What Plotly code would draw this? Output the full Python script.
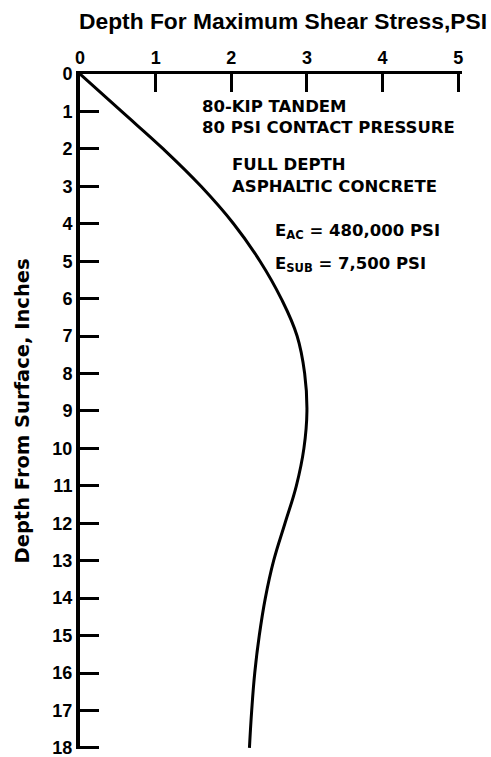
import plotly.graph_objects as go

# Data
depth_in = [0, 1, 2, 3, 4, 5, 6, 7, 8, 9, 10, 11, 12, 13, 14, 15, 16, 17, 18]
shear_psi = [0, 0.55, 1.1, 1.6, 2.03, 2.38, 2.66, 2.87, 2.97, 3.0, 2.96, 2.86, 2.71, 2.56, 2.45, 2.37, 2.31, 2.27, 2.24]

x_ticks = [0, 1, 2, 3, 4, 5]
y_ticks = list(range(0, 19))

title_text = "Depth For Maximum Shear Stress,PSI"
ytitle_text = "Depth From Surface, Inches"

notes = [
    ("80-KIP TANDEM", 1.59, 0.88),
    ("80 PSI CONTACT PRESSURE", 1.59, 1.44),
    ("FULL DEPTH", 1.98, 2.43),
    ("ASPHALTIC CONCRETE", 1.98, 3.01),
    ("E<sub>AC</sub> = 480,000 PSI", 2.55, 4.2),
    ("E<sub>SUB</sub> = 7,500 PSI", 2.55, 5.08),
]

FONT = "Liberation Sans"
FONT2 = "DejaVu Sans"

fig = go.Figure()
fig.add_trace(go.Scatter(
    x=shear_psi, y=depth_in, mode="lines",
    line=dict(color="black", width=3, shape="spline", smoothing=1.2),
    showlegend=False, hoverinfo="skip",
))

W, H = 491, 757
L, R, T, B = 80, 29, 74, 8

fig.update_layout(
    width=W, height=H,
    margin=dict(l=L, r=R, t=T, b=B, autoexpand=False),
    paper_bgcolor="white", plot_bgcolor="white",
    showlegend=False,
    title=dict(text=title_text, x=283 / W, xanchor="center", xref="container",
               y=1 - 21 / H, yanchor="middle", yref="container", automargin=False,
               font=dict(family=FONT, size=22.8, color="black", weight="bold")),
    xaxis=dict(
        side="top", range=[0, 5.05], tickvals=x_ticks, ticktext=[str(v) for v in x_ticks],
        ticks="inside", ticklen=18, tickwidth=3, tickcolor="black",
        showline=True, linecolor="black", linewidth=3, mirror=False,
        showgrid=False, zeroline=False, automargin=False, ticklabeloverflow="allow",
        tickfont=dict(family=FONT, size=18, color="black", weight="bold"),
    ),
    yaxis=dict(
        range=[18.03, 0], tickvals=y_ticks, ticktext=[str(v) for v in y_ticks],
        ticks="inside", ticklen=19, tickwidth=3, tickcolor="black",
        showline=True, linecolor="black", linewidth=4, mirror=False,
        showgrid=False, zeroline=False, automargin=False, ticklabeloverflow="allow",
        tickfont=dict(family=FONT, size=18, color="black", weight="bold"),
    ),
)

annos = []
for text, xv, yv in notes:
    annos.append(dict(text=text, x=xv, y=yv, xref="x", yref="y",
                      xanchor="left", yanchor="middle", showarrow=False,
                      font=dict(family=FONT2, size=16.5, color="black", weight="bold")))
annos.append(dict(text=ytitle_text, x=(22 - L) / (W - L - R), y=0.5,
                  xref="paper", yref="paper", xanchor="center", yanchor="middle",
                  textangle=-90, showarrow=False,
                  font=dict(family=FONT2, size=19.5, color="black", weight="bold")))
fig.update_layout(annotations=annos)

fig.write_html("out.html")
